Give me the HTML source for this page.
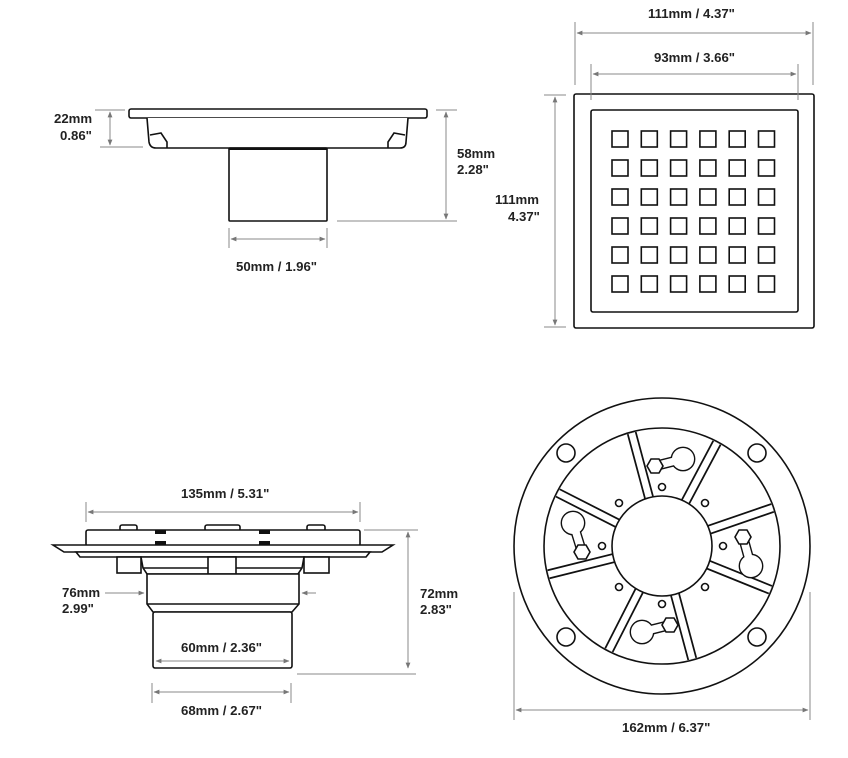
<!DOCTYPE html>
<html><head><style>
body{margin:0;background:#fff}
svg{display:block}
text{font-family:"Liberation Sans",sans-serif;font-size:13.2px;font-weight:bold;fill:#222}
.o{fill:none;stroke:#111;stroke-width:1.6}
.w{fill:#fff;stroke:#111;stroke-width:1.6}
.d{stroke:#888;stroke-width:1;fill:none}
</style></head><body>
<svg width="848" height="758" viewBox="0 0 848 758" xmlns="http://www.w3.org/2000/svg">
<defs>
<marker id="a" viewBox="0 0 10 10" refX="9" refY="5" markerWidth="6" markerHeight="6" orient="auto-start-reverse"><path d="M0,1 L10,5 L0,9 z" fill="#777"/></marker>
</defs>
<!-- Top left side view -->
<rect x="129" y="109" width="298" height="9" rx="2" class="w"/>
<path d="M147,118 L149,142 Q150,148 156,148 L400,148 Q406,148 406,142 L408,118" class="w"/>
<path d="M150,135 L161,133 L167,142 L167,148 M405,135 L394,133 L388,142 L388,148" class="o" stroke-width="1.2"/>
<rect x="229" y="148" width="98" height="73" rx="1" class="w"/>
<line x1="229" y1="149" x2="327" y2="149" stroke="#111" stroke-width="2"/>
<line x1="95" y1="110" x2="125" y2="110" class="d"/><line x1="100" y1="147" x2="143" y2="147" class="d"/>
<line x1="110" y1="112" x2="110" y2="145" class="d" marker-start="url(#a)" marker-end="url(#a)"/>
<text x="54" y="123">22mm</text><text x="60" y="140">0.86"</text>
<line x1="436" y1="110" x2="457" y2="110" class="d"/><line x1="337" y1="221" x2="457" y2="221" class="d"/>
<line x1="446" y1="112" x2="446" y2="219" class="d" marker-start="url(#a)" marker-end="url(#a)"/>
<text x="457" y="158">58mm</text><text x="457" y="174">2.28"</text>
<line x1="229" y1="228" x2="229" y2="248" class="d"/><line x1="327" y1="228" x2="327" y2="248" class="d"/>
<line x1="231" y1="239" x2="325" y2="239" class="d" marker-start="url(#a)" marker-end="url(#a)"/>
<text x="236" y="271">50mm / 1.96"</text>

<!-- Top right grate -->
<rect x="574" y="94" width="240" height="234" rx="2" class="o"/>
<rect x="591" y="110" width="207" height="202" rx="2" class="o"/>
<g class="o" stroke-width="1.7">
<g id="row">
<rect x="612" y="131" width="16" height="16"/><rect x="641.3" y="131" width="16" height="16"/><rect x="670.6" y="131" width="16" height="16"/><rect x="699.9" y="131" width="16" height="16"/><rect x="729.2" y="131" width="16" height="16"/><rect x="758.5" y="131" width="16" height="16"/>
</g>
<use href="#row" y="29"/><use href="#row" y="58"/><use href="#row" y="87"/><use href="#row" y="116"/><use href="#row" y="145"/>
</g>
<line x1="575" y1="22" x2="575" y2="85" class="d"/><line x1="813" y1="22" x2="813" y2="85" class="d"/>
<line x1="577" y1="33" x2="811" y2="33" class="d" marker-start="url(#a)" marker-end="url(#a)"/>
<text x="648" y="18">111mm / 4.37"</text>
<line x1="591" y1="64" x2="591" y2="100" class="d"/><line x1="798" y1="64" x2="798" y2="100" class="d"/>
<line x1="593" y1="74" x2="796" y2="74" class="d" marker-start="url(#a)" marker-end="url(#a)"/>
<text x="654" y="62">93mm / 3.66"</text>
<line x1="544" y1="95" x2="566" y2="95" class="d"/><line x1="544" y1="327" x2="566" y2="327" class="d"/>
<line x1="555" y1="97" x2="555" y2="325" class="d" marker-start="url(#a)" marker-end="url(#a)"/>
<text x="495" y="204">111mm</text><text x="508" y="221">4.37"</text>

<!-- Bottom left side view -->
<line x1="86" y1="502" x2="86" y2="522" class="d"/><line x1="360" y1="502" x2="360" y2="522" class="d"/>
<line x1="88" y1="512" x2="358" y2="512" class="d" marker-start="url(#a)" marker-end="url(#a)"/>
<text x="181" y="498">135mm / 5.31"</text>
<rect x="120" y="525" width="17" height="6" rx="2" class="w" stroke-width="1.2"/>
<rect x="205" y="525" width="35" height="6" rx="2" class="w" stroke-width="1.2"/>
<rect x="307" y="525" width="18" height="6" rx="2" class="w" stroke-width="1.2"/>
<rect x="86" y="530" width="274" height="16" rx="2" class="w"/>
<rect x="155" y="530" width="11" height="4" fill="#111"/><rect x="155" y="541" width="11" height="4" fill="#111"/>
<rect x="259" y="530" width="11" height="4" fill="#111"/><rect x="259" y="541" width="11" height="4" fill="#111"/>
<path d="M53,545 L393,545 L382,552 L64,552 Z" class="w"/>
<path d="M76,552 L370,552 L366,557 L80,557 Z" class="w"/>
<rect x="117" y="557" width="24" height="16" class="w"/>
<rect x="304" y="557" width="25" height="16" class="w"/>
<path d="M141,557 L304,557 L302,568 L298,574 L147,574 L143,568 Z" class="w"/>
<line x1="143" y1="568" x2="302" y2="568" class="o"/>
<rect x="208" y="557" width="28" height="17" class="w"/>
<path d="M147,574 L299,574 L299,604 L292,612 L153,612 L147,604 Z" class="w"/>
<line x1="147" y1="604" x2="299" y2="604" class="o"/>
<rect x="153" y="612" width="139" height="56" rx="2" class="w"/>
<line x1="364" y1="530" x2="418" y2="530" class="d"/><line x1="297" y1="674" x2="416" y2="674" class="d"/>
<line x1="408" y1="532" x2="408" y2="668" class="d" marker-start="url(#a)" marker-end="url(#a)"/>
<text x="420" y="598">72mm</text><text x="420" y="614">2.83"</text>
<line x1="105" y1="593" x2="144" y2="593" class="d" marker-end="url(#a)"/>
<line x1="316" y1="593" x2="302" y2="593" class="d" marker-end="url(#a)"/>
<text x="62" y="597">76mm</text><text x="62" y="613">2.99"</text>
<line x1="156" y1="661" x2="289" y2="661" class="d" marker-start="url(#a)" marker-end="url(#a)"/>
<text x="181" y="652">60mm / 2.36"</text>
<line x1="152" y1="683" x2="152" y2="703" class="d"/><line x1="291" y1="683" x2="291" y2="703" class="d"/>
<line x1="154" y1="692" x2="289" y2="692" class="d" marker-start="url(#a)" marker-end="url(#a)"/>
<text x="181" y="715">68mm / 2.67"</text>

<!-- Bottom right round -->
<g transform="translate(662,546)">
<circle r="148" class="o"/>
<circle r="118" class="o"/>
<clipPath id="c"><circle r="117"/></clipPath>
<g clip-path="url(#c)">
<g stroke="#111" stroke-width="10"><line x1="0" y1="0" x2="130" y2="0" transform="rotate(-105)"/><line x1="0" y1="0" x2="130" y2="0" transform="rotate(-62)"/><line x1="0" y1="0" x2="130" y2="0" transform="rotate(-19)"/><line x1="0" y1="0" x2="130" y2="0" transform="rotate(22)"/><line x1="0" y1="0" x2="130" y2="0" transform="rotate(75)"/><line x1="0" y1="0" x2="130" y2="0" transform="rotate(117)"/><line x1="0" y1="0" x2="130" y2="0" transform="rotate(166)"/><line x1="0" y1="0" x2="130" y2="0" transform="rotate(207)"/></g>
<g stroke="#fff" stroke-width="6.5"><line x1="0" y1="0" x2="130" y2="0" transform="rotate(-105)"/><line x1="0" y1="0" x2="130" y2="0" transform="rotate(-62)"/><line x1="0" y1="0" x2="130" y2="0" transform="rotate(-19)"/><line x1="0" y1="0" x2="130" y2="0" transform="rotate(22)"/><line x1="0" y1="0" x2="130" y2="0" transform="rotate(75)"/><line x1="0" y1="0" x2="130" y2="0" transform="rotate(117)"/><line x1="0" y1="0" x2="130" y2="0" transform="rotate(166)"/><line x1="0" y1="0" x2="130" y2="0" transform="rotate(207)"/></g>
</g>
<circle r="50" class="w"/>
<g class="w" stroke-width="1.4">
<circle cx="-96" cy="-93" r="9"/><circle cx="95" cy="-93" r="9"/><circle cx="-96" cy="91" r="9"/><circle cx="95" cy="91" r="9"/>
</g>
</g>
<g class="w" stroke-width="1.4">
<circle cx="662" cy="487" r="3.5"/><circle cx="619" cy="503" r="3.5"/><circle cx="705" cy="503" r="3.5"/><circle cx="602" cy="546" r="3.5"/><circle cx="723" cy="546" r="3.5"/><circle cx="619" cy="587" r="3.5"/><circle cx="705" cy="587" r="3.5"/><circle cx="662" cy="604" r="3.5"/>
</g>
<!-- keyholes: outline layer then fill layer -->
<g stroke="#111" fill="#111" stroke-width="0">
<line x1="683" y1="459" x2="655" y2="466" stroke-width="10.4"/><circle cx="683" cy="459" r="12.4"/>
<line x1="573" y1="523" x2="582" y2="552" stroke-width="10.4"/><circle cx="573" cy="523" r="12.4"/>
<line x1="751" y1="566" x2="743" y2="537" stroke-width="10.4"/><circle cx="751" cy="566" r="12.4"/>
<line x1="642" y1="632" x2="670" y2="625" stroke-width="10.4"/><circle cx="642" cy="632" r="12.4"/>
</g>
<g fill="#fff" stroke="#fff" stroke-width="0">
<line x1="683" y1="459" x2="655" y2="466" stroke-width="7.6"/><circle cx="683" cy="459" r="11"/>
<line x1="573" y1="523" x2="582" y2="552" stroke-width="7.6"/><circle cx="573" cy="523" r="11"/>
<line x1="751" y1="566" x2="743" y2="537" stroke-width="7.6"/><circle cx="751" cy="566" r="11"/>
<line x1="642" y1="632" x2="670" y2="625" stroke-width="7.6"/><circle cx="642" cy="632" r="11"/>
</g>
<g class="w" stroke-width="1.4">
<polygon points="647,466 651,459 659,459 663,466 659,473 651,473"/>
<polygon points="574,552 578,545 586,545 590,552 586,559 578,559"/>
<polygon points="735,537 739,530 747,530 751,537 747,544 739,544"/>
<polygon points="662,625 666,618 674,618 678,625 674,632 666,632"/>
</g>
<line x1="514" y1="592" x2="514" y2="720" class="d"/><line x1="810" y1="592" x2="810" y2="720" class="d"/>
<line x1="516" y1="710" x2="808" y2="710" class="d" marker-start="url(#a)" marker-end="url(#a)"/>
<text x="622" y="732">162mm / 6.37"</text>
</svg>
</body></html>
